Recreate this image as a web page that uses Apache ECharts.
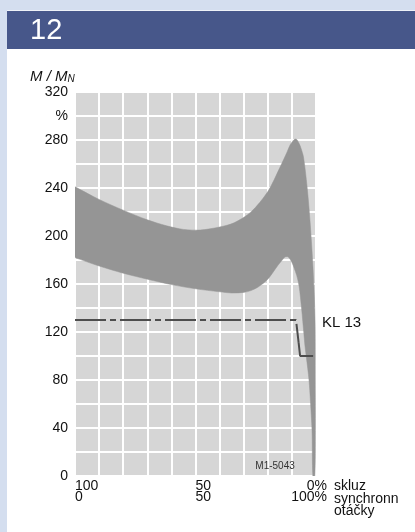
<!DOCTYPE html>
<html>
<head>
<meta charset="utf-8">
<script src="https://cdn.jsdelivr.net/npm/echarts@6/dist/echarts.min.js"></script>
<style>
html,body{margin:0;padding:0;width:415px;height:532px;background:#d4deef;overflow:hidden;font-family:"Liberation Sans",Arial,sans-serif;}
#panel{position:absolute;left:7px;top:49px;width:408px;height:483px;background:#ffffff;}
#head{position:absolute;left:7px;top:10px;width:408px;height:38px;background:#47578a;border-top:1px solid #eef2f8;}
#chart{position:absolute;left:0;top:0;width:415px;height:532px;}
</style>
</head>
<body>
<div id="panel"></div>
<div id="head"></div>
<div id="chart"></div>
<script>
// Upper boundary of the torque band (slip %, M/MN %)
const upperSlip = [104, 100, 90, 80, 70, 62, 55, 48, 40, 34, 27, 20, 15, 12, 10.7, 9, 8, 7, 6.2, 5.2, 3.7, 2.5, 1.2, 0.4, 0.3, 0.25, 0.5];
const upperVal  = [245, 241, 230.5, 221.5, 213.5, 208.5, 205.5, 205, 207.5, 211, 220, 237, 257, 270, 276, 280.5, 280.5, 277, 273, 266, 241, 213, 172, 130, 80, 38, 0];
// Lower boundary of the torque band
const lowerSlip = [104, 100, 90, 80, 70, 60, 50, 40, 35, 30, 27, 24, 20, 16, 14, 12.8, 11.5, 10, 9, 8, 7, 6, 5, 4.5, 4, 2.9, 2.3, 1.65, 1.3];
const lowerVal  = [185, 182, 175, 169, 164, 159.5, 156, 153.5, 152.5, 153, 154.5, 157.5, 164, 175, 180, 182.5, 182.5, 178, 173, 167, 158, 140, 118, 107, 99, 80, 62, 38, 0];
// KL 13 characteristic (dash-dot part, then solid end step)
const klSlip = [100, 8.3, 7.2];
const klVal  = [130, 130, 111];
const klEndSlip = [7.2, 6.6, 1.2];
const klEndVal  = [111, 100, 100];
// Tick labels
const yTickLabels = {0:'0',40:'40',80:'80',120:'120',160:'160',200:'200',240:'240',280:'280',300:'%',320:'320'};
const xTickLabels = {100:'100\n0', 50:'50\n50'};

const G = {left:75, top:92, width:241, height:384};
const chart = echarts.init(document.getElementById('chart'));
const FONT = '"Liberation Sans", Arial, sans-serif';

chart.setOption({
  animation:false,
  backgroundColor:'transparent',
  grid:{left:G.left, top:G.top, width:G.width, height:G.height, show:true, backgroundColor:'#d6d6d6', borderWidth:0, containLabel:false},
  xAxis:{
    type:'value', min:0, max:100, interval:10, inverse:true,
    axisLine:{show:false}, axisTick:{show:false},
    splitLine:{show:true, lineStyle:{color:'#ffffff', width:2}},
    axisLabel:{
      show:true, align:'left', margin:5, color:'#111', fontSize:14, lineHeight:11, fontFamily:FONT,
      showMinLabel:true, showMaxLabel:true,
      formatter:function(v){ return xTickLabels[v] || ''; }
    }
  },
  yAxis:{
    type:'value', min:0, max:320, interval:20,
    axisLine:{show:false}, axisTick:{show:false},
    splitLine:{show:true, lineStyle:{color:'#ffffff', width:2}},
    axisLabel:{
      show:true, margin:7, color:'#111', fontSize:14, fontFamily:FONT,
      showMinLabel:true, showMaxLabel:true,
      formatter:function(v){ return yTickLabels[v] !== undefined ? yTickLabels[v] : ''; }
    }
  },
  series:[
    {
      type:'custom',
      clip:true,
      data:[[50,150]],
      renderItem:function(params, api){
        const pts = [];
        for (let i=0;i<upperSlip.length;i++) pts.push(api.coord([upperSlip[i], upperVal[i]]));
        for (let i=lowerSlip.length-1;i>=0;i--) pts.push(api.coord([lowerSlip[i], lowerVal[i]]));
        return {type:'polygon', shape:{points:pts, smooth:0.3}, style:{fill:'#959595', stroke:'#959595', lineWidth:0.5}};
      },
      z:2
    },
    {
      type:'line',
      data:klSlip.map((s,i)=>[s, klVal[i]]),
      symbol:'none',
      lineStyle:{color:'#4d4d4d', width:2, type:[31,4,6,4]},
      z:3
    },
    {
      type:'line',
      data:klEndSlip.map((s,i)=>[s, klEndVal[i]]),
      symbol:'none',
      lineStyle:{color:'#4d4d4d', width:2, type:'solid'},
      z:3
    }
  ]
});

function px(s, v){ return chart.convertToPixel({gridIndex:0}, [s, v]); }
const p0 = px(0, 0);
const pKL = px(0, 130);
const pM = px(17, 8);
chart.setOption({
  graphic:[
    {type:'text', left:30, top:16, style:{text:'12', fill:'#ffffff', font:'29px '+FONT}},
    {type:'text', left:30, top:69, style:{
      text:'{i|M / M}{s|N}',
      rich:{i:{fontStyle:'italic', fontSize:15, fontFamily:FONT, fill:'#111'}, s:{fontStyle:'italic', fontSize:10, fontFamily:FONT, fill:'#111', padding:[6,0,0,0]}}
    }},
    {type:'text', x:pKL[0]+6, y:pKL[1]+3, style:{text:'KL 13', fill:'#111', font:'15px '+FONT, textVerticalAlign:'middle'}},
    {type:'text', x:pM[0], y:pM[1], style:{text:'M1-5043', fill:'#333', font:'10px '+FONT, textAlign:'center', textVerticalAlign:'middle'}},
    {type:'text', x:p0[0]+11, y:p0[1]+5, style:{text:'0%\n100%', fill:'#111', font:'14px '+FONT, textAlign:'right', lineHeight:11}},
    {type:'text', x:p0[0]+18, y:p0[1]+4, style:{text:'skluz\nsynchronn\notáčky', fill:'#111', font:'14px '+FONT, textAlign:'left', lineHeight:12.5}}
  ]
});
</script>
</body>
</html>
